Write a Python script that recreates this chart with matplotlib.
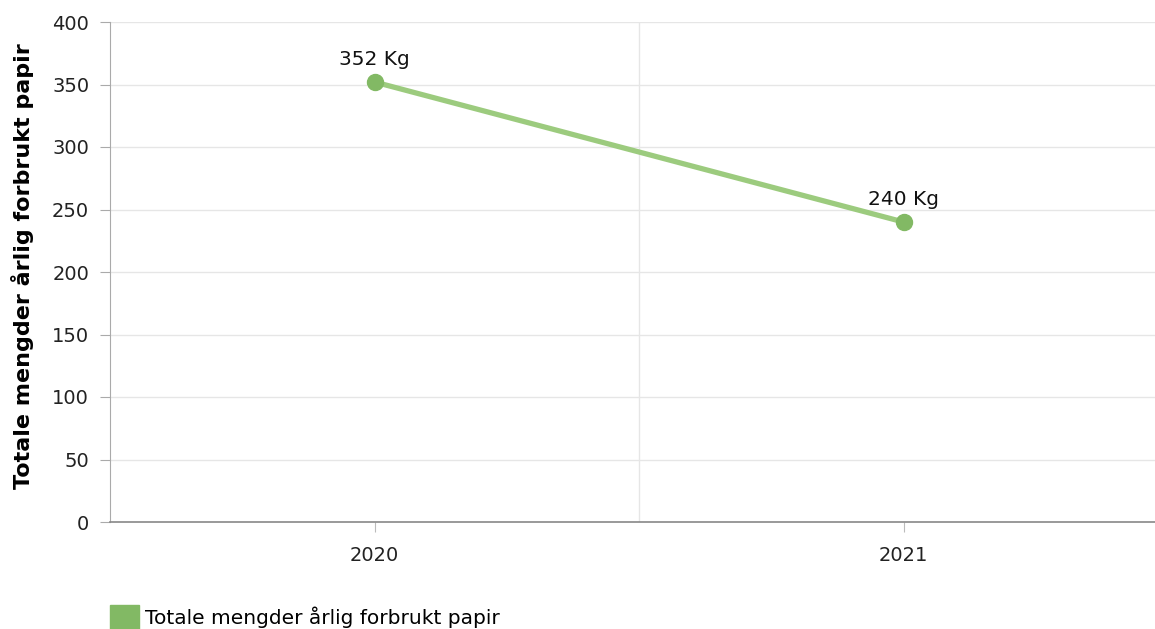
import matplotlib.pyplot as plt
from matplotlib.patches import Patch

# data
years = ['2020', '2021']
paper_kg = [352, 240]
labels = ['352 Kg', '240 Kg']
series_name = 'Totale mengder årlig forbrukt papir'
y_ticks = [0, 50, 100, 150, 200, 250, 300, 350, 400]

plt.rcParams['font.family'] = ['DejaVu Sans']

W, H = 1155, 629
fig = plt.figure(figsize=(W / 100, H / 100), dpi=100)
# plot area runs past the right edge of the image, as in the original
ax = fig.add_axes([110 / W, (H - 522) / H, 1058 / W, 500 / H])

x = list(range(len(years)))
ax.plot(x, paper_kg, color='#9ccb7e', lw=3.8, solid_capstyle='butt', zorder=3)
ax.plot(x, paper_kg, 'o', color='#82b964', ms=11.5, zorder=4)
for xi, v, lab in zip(x, paper_kg, labels):
    ax.annotate(lab, (xi, v), xytext=(0, 16.5), textcoords='offset points',
                ha='center', va='center', fontsize=14.5, color='#111111')

ax.set_xlim(-0.5, 1.5)
ax.set_ylim(0, 400)
ax.set_yticks(y_ticks)
ax.set_xticks(x)
ax.set_xticklabels(years)
ax.set_xticks([0.5], minor=True)

ax.grid(axis='y', color='#e6e6e6', lw=1)
ax.grid(axis='x', which='minor', color='#e6e6e6', lw=1)
ax.set_axisbelow(True)

for s in ['top', 'right']:
    ax.spines[s].set_visible(False)
ax.spines['left'].set_color('#aaaaaa')
ax.spines['bottom'].set_color('#888888')
ax.spines['bottom'].set_linewidth(1.2)

ax.tick_params(axis='y', length=7, color='#aaaaaa', labelsize=14, labelcolor='#222222', pad=8)
ax.tick_params(axis='x', which='major', length=7, color='#bbbbbb', labelsize=14,
               labelcolor='#222222', pad=10)
ax.tick_params(axis='x', which='minor', length=0)

ax.set_ylabel(series_name, fontsize=16, fontweight='bold')
ax.yaxis.set_label_coords(-76 / 1058, 0.512)

fig.legend(handles=[Patch(color='#82b964', label=series_name)], loc='lower left',
           bbox_to_anchor=(110 / W, 0.0), frameon=False, fontsize=14.5,
           handlelength=1.45, handleheight=1.45, handletextpad=0.3, borderpad=0,
           borderaxespad=0)

fig.savefig('out.png', dpi=100)
